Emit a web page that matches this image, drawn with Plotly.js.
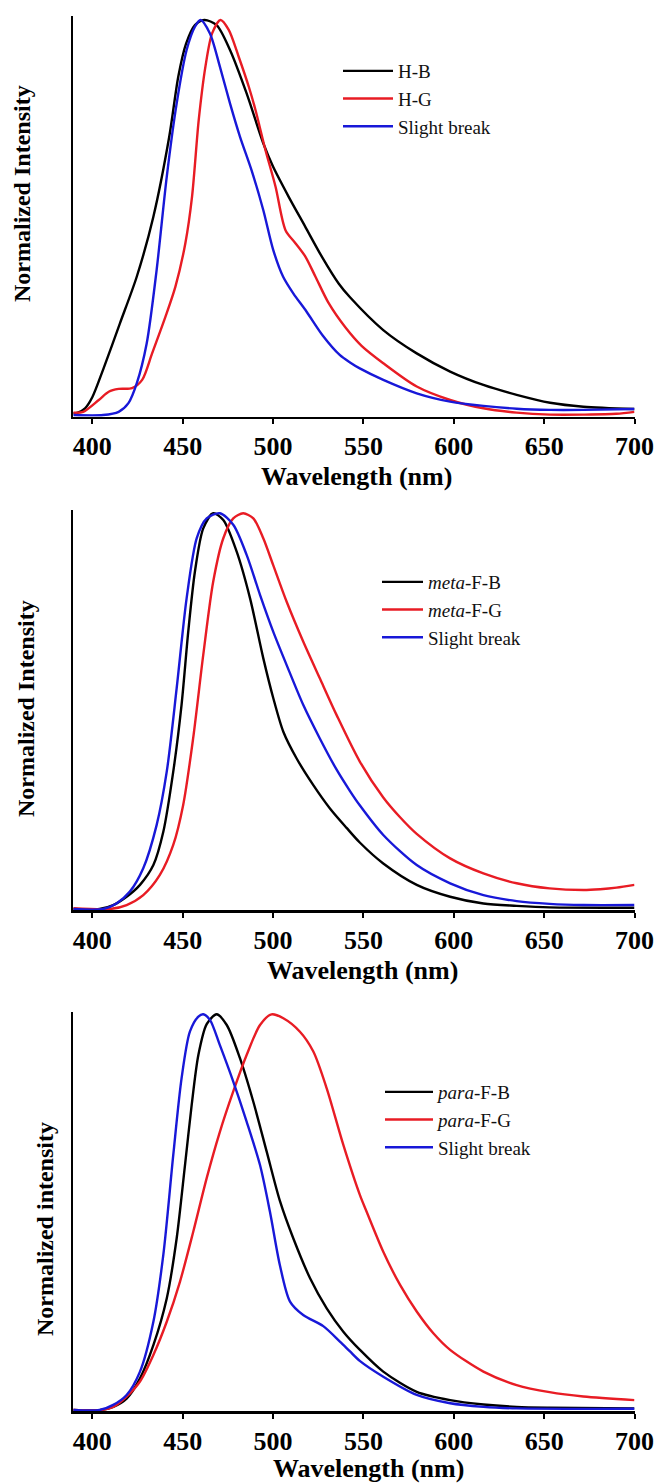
<!DOCTYPE html>
<html>
<head>
<meta charset="utf-8">
<script src="https://cdn.plot.ly/plotly-3.0.1.min.js"></script>
<style>html,body{margin:0;padding:0;background:#fff;}#chart{width:656px;height:1483px;}</style>
</head>
<body>
<div id="chart"></div>
<script>
// ---------- Panel 1 (H) ----------
const wlHB = [389.5,392,396,400,406,415.3,424.6,433.8,442.6,447.6,451.9,456.8,462,468.8,476.2,485.4,494.6,500,508.6,517.8,527,536.3,542.6,561,579.5,598,616.4,634.8,653.3,671.7,700];
const inHB = [0.004,0.006,0.017,0.045,0.115,0.232,0.35,0.502,0.705,0.857,0.94,0.987,1.0,0.987,0.924,0.814,0.688,0.629,0.553,0.477,0.401,0.333,0.298,0.215,0.156,0.11,0.076,0.051,0.031,0.021,0.015];
const wlHG = [389.5,395,403.6,409.1,414.6,422,427.6,433.1,440.5,446,451.5,455.2,458.9,462.6,466.3,470.9,475.5,481,486.6,490.3,495.8,501.4,506.9,512.4,517.9,523.5,530.8,540,549,561,579.5,598,616.4,634.8,653.3,671.7,690,700];
const inHG = [0.006,0.008,0.038,0.059,0.066,0.068,0.089,0.156,0.249,0.325,0.435,0.553,0.747,0.882,0.966,1.0,0.975,0.907,0.831,0.772,0.671,0.578,0.468,0.435,0.401,0.35,0.283,0.222,0.175,0.131,0.072,0.038,0.017,0.006,0.001,0.001,0.003,0.008];
const wlH_SB = [389.5,406,414.6,420,424.6,430.1,435.6,441.2,446.7,452.2,456.8,459.9,465.1,470.6,476.2,481.7,488.1,494.6,500.1,505.6,511.2,518.5,527.7,536.9,542.6,548,561,579.5,598,616.4,634.8,653.3,671.7,700];
const inH_SB = [0,0,0.008,0.03,0.08,0.181,0.367,0.603,0.789,0.924,0.983,1.0,0.966,0.882,0.789,0.705,0.62,0.519,0.418,0.35,0.308,0.262,0.2,0.152,0.133,0.118,0.089,0.055,0.034,0.023,0.016,0.013,0.013,0.015];

// ---------- Panel 2 (meta) ----------
const wlMB = [389.5,404,411.6,419,426.4,433.8,439.3,444.8,449.4,453.1,456.8,461.4,466.9,472.5,479.9,487.3,494.6,500.2,505.7,513,522.3,531.5,540.7,548,561,579.5,598,616.4,634.8,653,700];
const inMB = [0,0,0.01,0.031,0.061,0.111,0.195,0.347,0.516,0.701,0.853,0.962,1.0,0.983,0.903,0.785,0.634,0.532,0.448,0.381,0.313,0.254,0.205,0.168,0.115,0.061,0.031,0.014,0.008,0.004,0.003];
const wlMG = [389.5,409.8,419,428.2,437.4,444.8,450.3,455.8,461.4,466.9,472.5,478,483.5,489.1,494.6,500.1,507.5,516.7,525.9,535.2,548.1,561,570.3,579.5,598,616.4,634.8,653,671.7,681,690,700];
const inMG = [0.002,0,0.01,0.035,0.086,0.162,0.263,0.431,0.642,0.827,0.937,0.987,1.0,0.987,0.937,0.869,0.777,0.676,0.583,0.49,0.372,0.282,0.232,0.19,0.128,0.09,0.065,0.052,0.048,0.05,0.054,0.061];
const wlM_SB = [389.5,406,413.4,420.8,428.2,435.6,441.2,446.7,452.2,457.8,463.3,470.6,478,485.4,492.8,500.1,507.5,516.7,525.9,535.2,542.6,548,561,579.5,598,616.4,634.8,653,671.7,700];
const inM_SB = [0,0,0.014,0.044,0.103,0.212,0.347,0.558,0.785,0.937,0.987,1.0,0.971,0.895,0.794,0.701,0.617,0.516,0.431,0.352,0.298,0.262,0.187,0.111,0.065,0.035,0.02,0.013,0.01,0.01];

// ---------- Panel 3 (para) ----------
const wlPB = [389.5,405,411.6,419,426.4,433.8,441.2,446.7,451.3,455,458.7,463.3,468.8,474.4,481.7,489.1,496.5,503.9,511.2,520.5,529.7,538.9,548.1,561,579.5,598,616.4,634.8,653,700];
const inPB = [0,0,0.008,0.029,0.08,0.164,0.282,0.434,0.619,0.771,0.897,0.975,1.0,0.973,0.889,0.779,0.653,0.527,0.434,0.333,0.257,0.198,0.152,0.097,0.046,0.025,0.014,0.008,0.006,0.004];
const wlPG = [389.5,405,411.6,419,426.4,433.8,441.2,448.5,455.9,463.3,470.6,478,485.4,492.8,499.2,505.7,514.9,522.3,529.7,538.9,548.1,551.8,561,570.3,579.5,588.7,598,616.4,634.8,653,671.7,700];
const inPG = [0,0,0.008,0.034,0.072,0.139,0.223,0.324,0.451,0.586,0.703,0.805,0.897,0.973,1.0,0.99,0.956,0.906,0.813,0.67,0.543,0.501,0.4,0.316,0.249,0.194,0.152,0.097,0.063,0.045,0.034,0.025];
const wlP_SB = [389.5,404,411.6,419,426.4,433.8,439.3,444.8,449.4,454,458.7,461.4,465.1,470.6,478,485.4,492.8,498.3,503.8,509.4,516.7,527.8,537,542.6,548,561,579.5,598,616.4,634.8,700];
const inP_SB = [0,0,0.013,0.038,0.097,0.223,0.392,0.644,0.838,0.956,0.994,1.0,0.986,0.922,0.83,0.729,0.619,0.501,0.366,0.274,0.24,0.212,0.173,0.148,0.124,0.084,0.038,0.017,0.008,0.004,0.003];

const namesH = ['H-B','H-G','Slight break'];
const namesM = ['<i>meta</i>-F-B','<i>meta</i>-F-G','Slight break'];
const namesP = ['<i>para</i>-F-B','<i>para</i>-F-G','Slight break'];
const tickVals = [400,450,500,550,600,650,700];
const tickLabels = ['400','450','500','550','600','650','700'];
const xTitle = 'Wavelength (nm)';
const yTitles = ['Normalized Intensity','Normalized Intensity','Normalized intensity'];

const colors = ['#000000','#e81c24','#1818d8'];
const serif = 'Liberation Serif, Times New Roman, serif';
const W = 656, H = 1483;

function tr(x, y, name, ci, ax, leg, grp) {
  return {x: x, y: y, name: name, type: 'scatter', mode: 'lines',
    line: {color: colors[ci], width: 2.4, shape: 'spline', smoothing: 0.8},
    xaxis: 'x' + ax, yaxis: 'y' + ax, legend: leg, legendgroup: grp, showlegend: true,
    hoverinfo: 'skip'};
}
const data = [
  tr(wlHB, inHB, namesH[0], 0, '', 'legend', 'a1'),
  tr(wlHG, inHG, namesH[1], 1, '', 'legend', 'a2'),
  tr(wlH_SB, inH_SB, namesH[2], 2, '', 'legend', 'a3'),
  tr(wlMB, inMB, namesM[0], 0, '2', 'legend2', 'b1'),
  tr(wlMG, inMG, namesM[1], 1, '2', 'legend2', 'b2'),
  tr(wlM_SB, inM_SB, namesM[2], 2, '2', 'legend2', 'b3'),
  tr(wlPB, inPB, namesP[0], 0, '3', 'legend3', 'c1'),
  tr(wlPG, inPG, namesP[1], 1, '3', 'legend3', 'c2'),
  tr(wlP_SB, inP_SB, namesP[2], 2, '3', 'legend3', 'c3')
];

const xDom = [73.3 / W, 634.5 / W];
function py(px) { return 1 - px / H; }
function xax(anchor) {
  return {domain: xDom, anchor: anchor, range: [389.5, 700], tickmode: 'array', tickvals: tickVals,
    ticktext: tickLabels.map(t => '<b>' + t + '</b>'),
    ticks: 'outside', ticklen: 5, tickwidth: 2, tickcolor: '#000',
    showline: true, linewidth: 2.5, linecolor: '#000', showgrid: false, zeroline: false,
    tickfont: {family: serif, size: 26, color: '#000', weight: 'bold'}, fixedrange: true};
}
function yax(anchor, top, bot, zero, one) {
  const s = zero - one;
  return {domain: [py(bot), py(top)], anchor: anchor,
    range: [(zero - bot) / s, (zero - top) / s],
    showline: true, linewidth: 2.5, linecolor: '#000', showgrid: false, zeroline: false,
    showticklabels: false, ticks: '', fixedrange: true};
}
function leg(leftPx, topPx, iw) {
  return {x: leftPx / W, y: py(topPx), xanchor: 'left', yanchor: 'top', xref: 'paper', yref: 'paper',
    bgcolor: 'rgba(0,0,0,0)', borderwidth: 0, itemwidth: iw, tracegroupgap: 0,
    font: {family: serif, size: 19, color: '#111'}, itemclick: false, itemdoubleclick: false};
}
function ann(text, xpx, ypx, size, angle) {
  return {text: '<b>' + text + '</b>', x: xpx / W, y: py(ypx), xref: 'paper', yref: 'paper',
    xanchor: 'center', yanchor: 'middle', showarrow: false, textangle: angle,
    font: {family: serif, size: size, color: '#000'}};
}

const layout = {
  width: W, height: H, margin: {l: 0, r: 0, t: 0, b: 0},
  paper_bgcolor: '#fff', plot_bgcolor: '#fff', showlegend: true,
  xaxis: xax('y'), yaxis: yax('x', 16, 416.7, 415, 20),
  xaxis2: xax('y2'), yaxis2: yax('x2', 510, 910, 909, 513.3),
  xaxis3: xax('y3'), yaxis3: yax('x3', 1011.7, 1411, 1410, 1014.3),
  legend: leg(338, 52, 50),
  legend2: leg(377, 563, 41),
  legend3: leg(380, 1073, 48),
  annotations: [
    ann(xTitle, 356, 477, 26, 0),
    ann(xTitle, 362, 971, 26, 0),
    ann(xTitle, 368, 1468, 26, 0),
    ann(yTitles[0], 22, 194, 24, -90),
    ann(yTitles[1], 26, 709, 24, -90),
    ann(yTitles[2], 45, 1229, 24, -90)
  ]
};

Plotly.newPlot('chart', data, layout, {displayModeBar: false, staticPlot: true});
</script>
</body>
</html>
